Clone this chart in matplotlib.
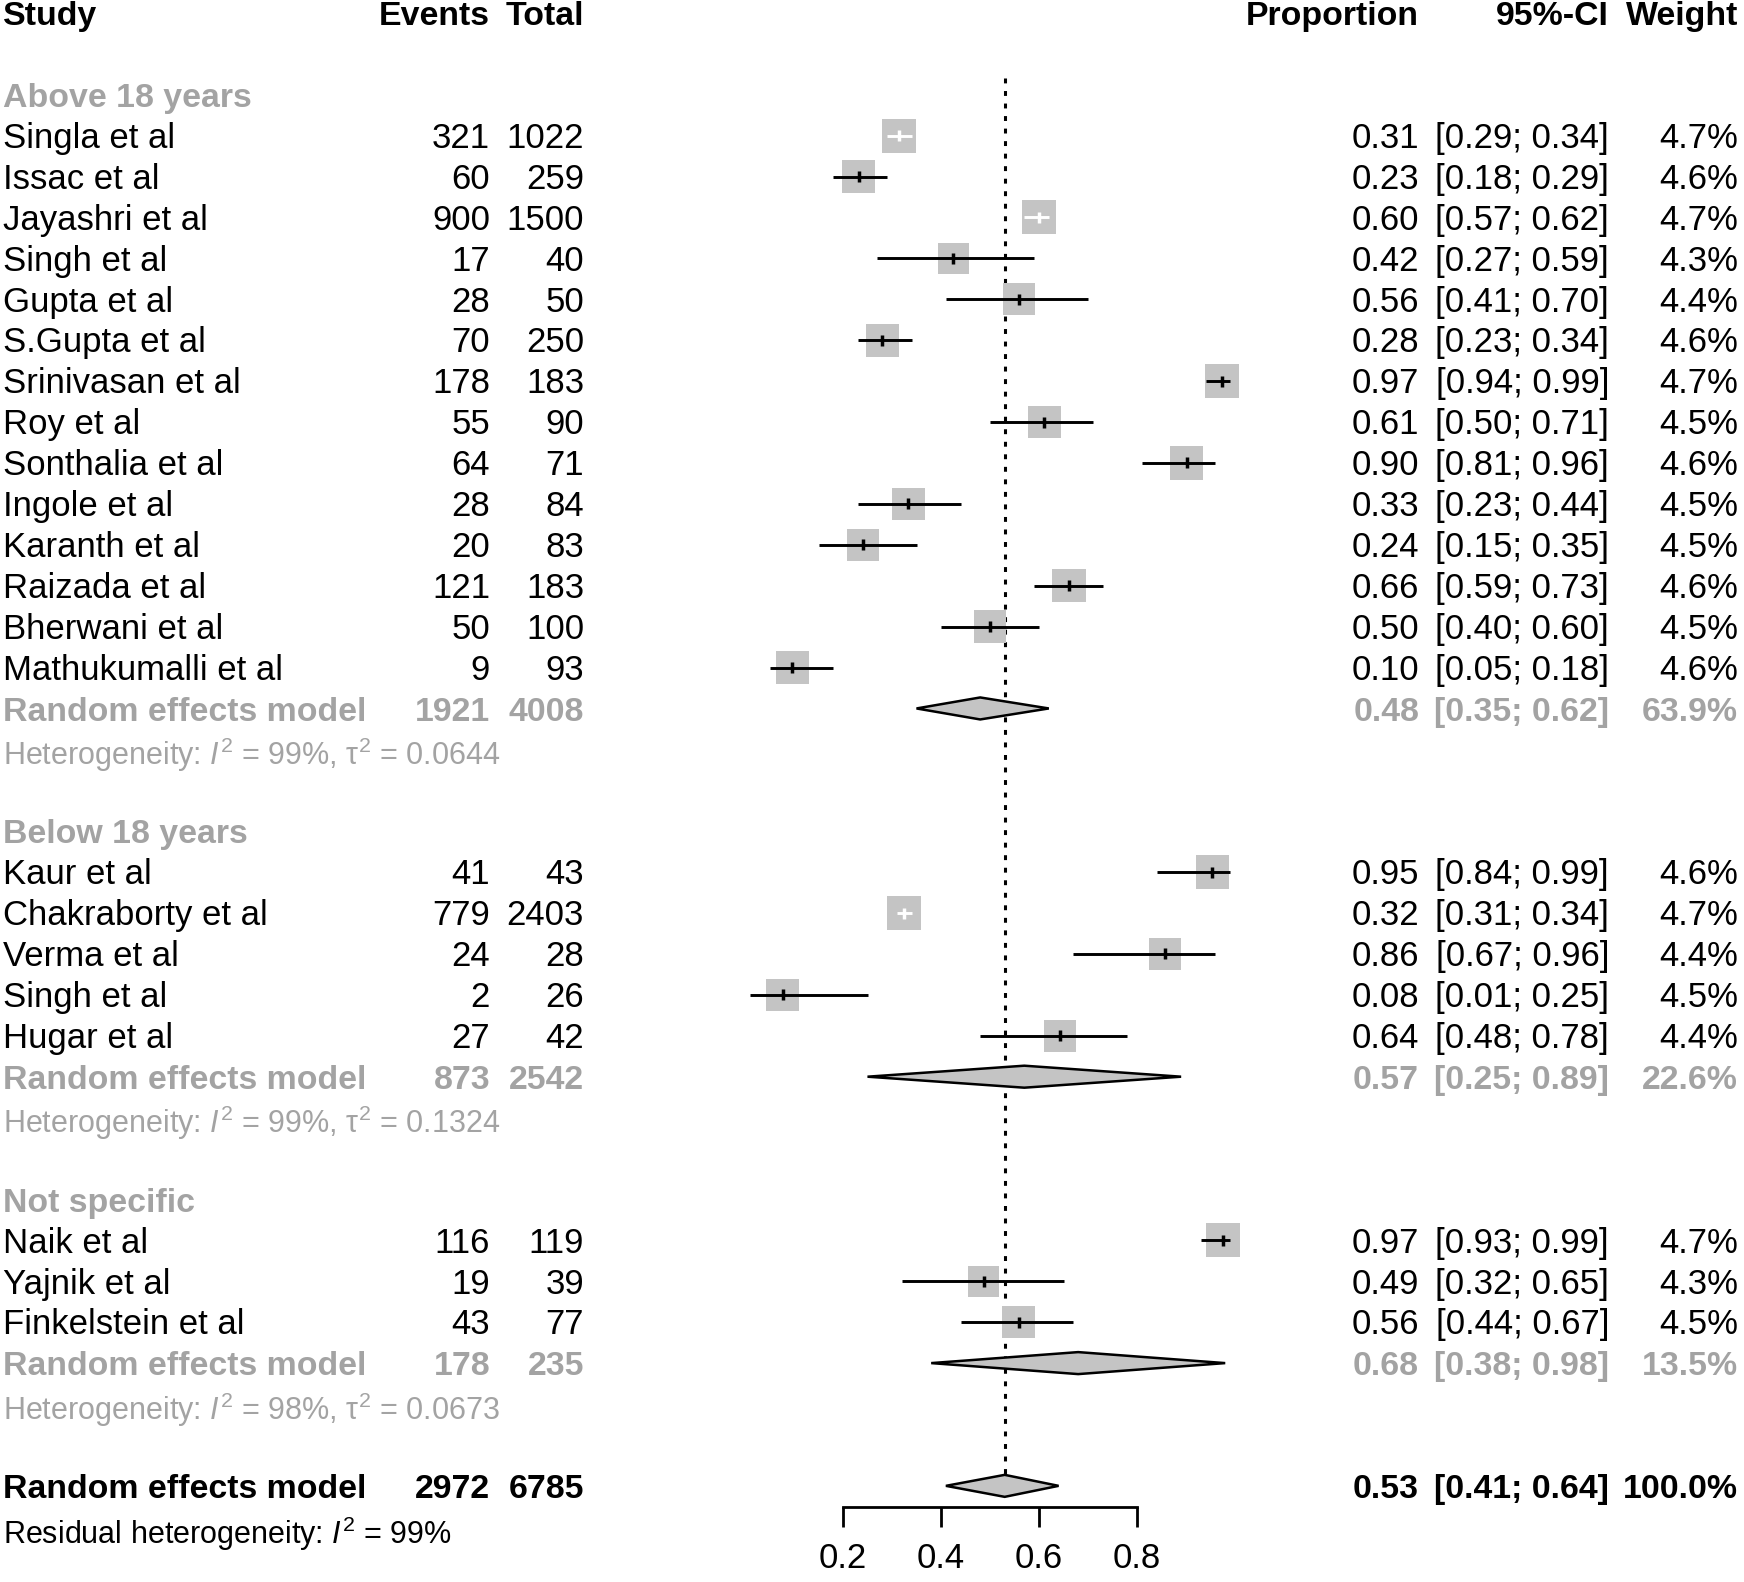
import matplotlib
matplotlib.use('Agg')
import matplotlib.pyplot as plt
from matplotlib.patches import Rectangle, Polygon
import numpy as np

plt.rcParams['font.family'] = ['Liberation Sans', 'DejaVu Sans']
plt.rcParams['mathtext.fontset'] = 'custom'
plt.rcParams['mathtext.rm'] = 'Liberation Sans'
plt.rcParams['mathtext.it'] = 'Liberation Sans:italic'

# ---- data ----
group_names = ['Above 18 years', 'Below 18 years', 'Not specific']

study = ['Singla et al', 'Issac et al', 'Jayashri et al', 'Singh et al', 'Gupta et al',
         'S.Gupta et al', 'Srinivasan et al', 'Roy et al', 'Sonthalia et al', 'Ingole et al',
         'Karanth et al', 'Raizada et al', 'Bherwani et al', 'Mathukumalli et al',
         'Kaur et al', 'Chakraborty et al', 'Verma et al', 'Singh et al', 'Hugar et al',
         'Naik et al', 'Yajnik et al', 'Finkelstein et al']
group = [0]*14 + [1]*5 + [2]*3
events = [321, 60, 900, 17, 28, 70, 178, 55, 64, 28, 20, 121, 50, 9,
          41, 779, 24, 2, 27,
          116, 19, 43]
total = [1022, 259, 1500, 40, 50, 250, 183, 90, 71, 84, 83, 183, 100, 93,
         43, 2403, 28, 26, 42,
         119, 39, 77]
prop = [0.31, 0.23, 0.60, 0.42, 0.56, 0.28, 0.97, 0.61, 0.90, 0.33, 0.24, 0.66, 0.50, 0.10,
        0.95, 0.32, 0.86, 0.08, 0.64,
        0.97, 0.49, 0.56]
ci_lo = [0.29, 0.18, 0.57, 0.27, 0.41, 0.23, 0.94, 0.50, 0.81, 0.23, 0.15, 0.59, 0.40, 0.05,
         0.84, 0.31, 0.67, 0.01, 0.48,
         0.93, 0.32, 0.44]
ci_hi = [0.34, 0.29, 0.62, 0.59, 0.70, 0.34, 0.99, 0.71, 0.96, 0.44, 0.35, 0.73, 0.60, 0.18,
         0.99, 0.34, 0.96, 0.25, 0.78,
         0.99, 0.65, 0.67]
weight = [4.7, 4.6, 4.7, 4.3, 4.4, 4.6, 4.7, 4.5, 4.6, 4.5, 4.5, 4.6, 4.5, 4.6,
          4.6, 4.7, 4.4, 4.5, 4.4,
          4.7, 4.3, 4.5]

sub_events = [1921, 873, 178]
sub_total = [4008, 2542, 235]
sub_prop = [0.48, 0.57, 0.68]
sub_lo = [0.35, 0.25, 0.38]
sub_hi = [0.62, 0.89, 0.98]
sub_weight = [63.9, 22.6, 13.5]
sub_i2 = ['99%', '99%', '98%']
sub_tau2 = ['0.0644', '0.1324', '0.0673']

all_events = 2972
all_total = 6785
all_prop = 0.53
all_lo = 0.41
all_hi = 0.64
all_weight = 100.0
resid_i2 = '99%'

xticks = [0.2, 0.4, 0.6, 0.8]

# ---- layout ----
W, H = 1744, 1582
ytop, ybot = -0.315, 38.35      # rows at the top / bottom edge of the picture
FS = 25.0                        # main font size
FS_BOLD = 24.4
FS_HET = 22
GREY = '#a3a3a3'
BOX = '#c4c4c4'
PX_PER_UNIT = 490.0
PX_PER_ROW = 40.91

X_STUDY, X_EVENTS, X_TOTAL = 3, 490, 584
X_PROP, X_CI, X_W = 1419, 1609, 1738

fig = plt.figure(figsize=(W/100, H/100), dpi=100)
tx = fig.add_axes([0, 0, 1, 1])
tx.set_xlim(0, W)
tx.set_ylim(ybot, ytop)
tx.axis('off')

ax = fig.add_axes([843/W, 0, 294/W, 1])
ax.set_xlim(0.2, 0.8)
ax.set_ylim(ybot, ytop)
ax.patch.set_visible(False)
for s in ['top', 'left', 'right']:
    ax.spines[s].set_visible(False)
ax.spines['bottom'].set_position(('data', 36.52))
ax.spines['bottom'].set_linewidth(2)
ax.set_yticks([])
ax.set_xticks(xticks)
ax.set_xticklabels([f'{t:.1f}' for t in xticks])
ax.tick_params(axis='x', direction='out', length=14.4, width=2, labelsize=FS, pad=11)


def row_text(r, s, x, ha='left', color='black', weight='normal', size=None, off=0.30):
    if size is None:
        size = FS_BOLD if weight == 'bold' else FS
    tx.text(x, r + off, s, ha=ha, va='baseline', color=color, fontweight=weight, fontsize=size)


def stats_text(r, p, lo, hi, w, color='black', weight='normal'):
    row_text(r, f'{p:.2f}', X_PROP, 'right', color, weight)
    row_text(r, f'[{lo:.2f}; {hi:.2f}]', X_CI, 'right', color, weight)
    row_text(r, f'{w:.1f}%', X_W, 'right', color, weight)


def diamond(r, p, lo, hi):
    h = 11 / PX_PER_ROW
    ax.add_patch(Polygon([(lo, r), (p, r - h), (hi, r), (p, r + h)], closed=True,
                         facecolor=BOX, edgecolor='black', lw=1.8, zorder=3, clip_on=False))


# headers
row_text(0, 'Study', X_STUDY, weight='bold')
row_text(0, 'Events', X_EVENTS, 'right', weight='bold')
row_text(0, 'Total', X_TOTAL, 'right', weight='bold')
row_text(0, 'Proportion', X_PROP, 'right', weight='bold')
row_text(0, '95%-CI', X_CI, 'right', weight='bold')
row_text(0, 'Weight', X_W, 'right', weight='bold')

r = 2
for g, gname in enumerate(group_names):
    row_text(r, gname, X_STUDY, color=GREY, weight='bold')
    r += 1
    for i in [k for k in range(len(study)) if group[k] == g]:
        row_text(r, study[i], X_STUDY)
        row_text(r, str(events[i]), X_EVENTS, 'right')
        row_text(r, str(total[i]), X_TOTAL, 'right')
        stats_text(r, prop[i], ci_lo[i], ci_hi[i], weight[i])

        est = events[i] / total[i]
        side = 34.0 * weight[i] / max(weight)
        half = side / 2 / PX_PER_UNIT
        ax.add_patch(Rectangle((est - half, r - side / 2 / PX_PER_ROW), 2 * half, side / PX_PER_ROW,
                               facecolor=BOX, edgecolor='none', zorder=2, clip_on=False))
        # CI drawn in white when it fits inside the square
        inside = max(est - ci_lo[i], ci_hi[i] - est) < 0.9 * half
        col = 'white' if inside else 'black'
        ax.plot([ci_lo[i], ci_hi[i]], [r, r], color=col, lw=2.1, zorder=4, clip_on=False,
                solid_capstyle='butt')
        ax.plot([est, est], [r - 5.5 / PX_PER_ROW, r + 5.5 / PX_PER_ROW], color=col, lw=2.5,
                zorder=4, clip_on=False, solid_capstyle='butt')
        r += 1
    row_text(r, 'Random effects model', X_STUDY, color=GREY, weight='bold')
    row_text(r, str(sub_events[g]), X_EVENTS, 'right', GREY, 'bold')
    row_text(r, str(sub_total[g]), X_TOTAL, 'right', GREY, 'bold')
    stats_text(r, sub_prop[g], sub_lo[g], sub_hi[g], sub_weight[g], GREY, 'bold')
    diamond(r, sub_prop[g], sub_lo[g], sub_hi[g])
    r += 1
    row_text(r, 'Heterogeneity: $\\mathit{I}^2$ = ' + sub_i2[g] + ', \u03c4$^2$ = ' + sub_tau2[g],
             X_STUDY, color=GREY, size=FS_HET, off=0.38)
    r += 2

# overall
row_text(r, 'Random effects model', X_STUDY, weight='bold')
row_text(r, str(all_events), X_EVENTS, 'right', weight='bold')
row_text(r, str(all_total), X_TOTAL, 'right', weight='bold')
stats_text(r, all_prop, all_lo, all_hi, all_weight, weight='bold')
diamond(r, all_prop, all_lo, all_hi)
ax.plot([all_prop, all_prop], [1.59, r - 11 / PX_PER_ROW], color='black', lw=2.2,
        ls=(0, (1.6, 2.5)), zorder=1, clip_on=False)
r += 1
row_text(r, 'Residual heterogeneity: $\\mathit{I}^2$ = ' + resid_i2, X_STUDY, size=FS_HET, off=0.41)

fig.savefig('out.png', dpi=100)
